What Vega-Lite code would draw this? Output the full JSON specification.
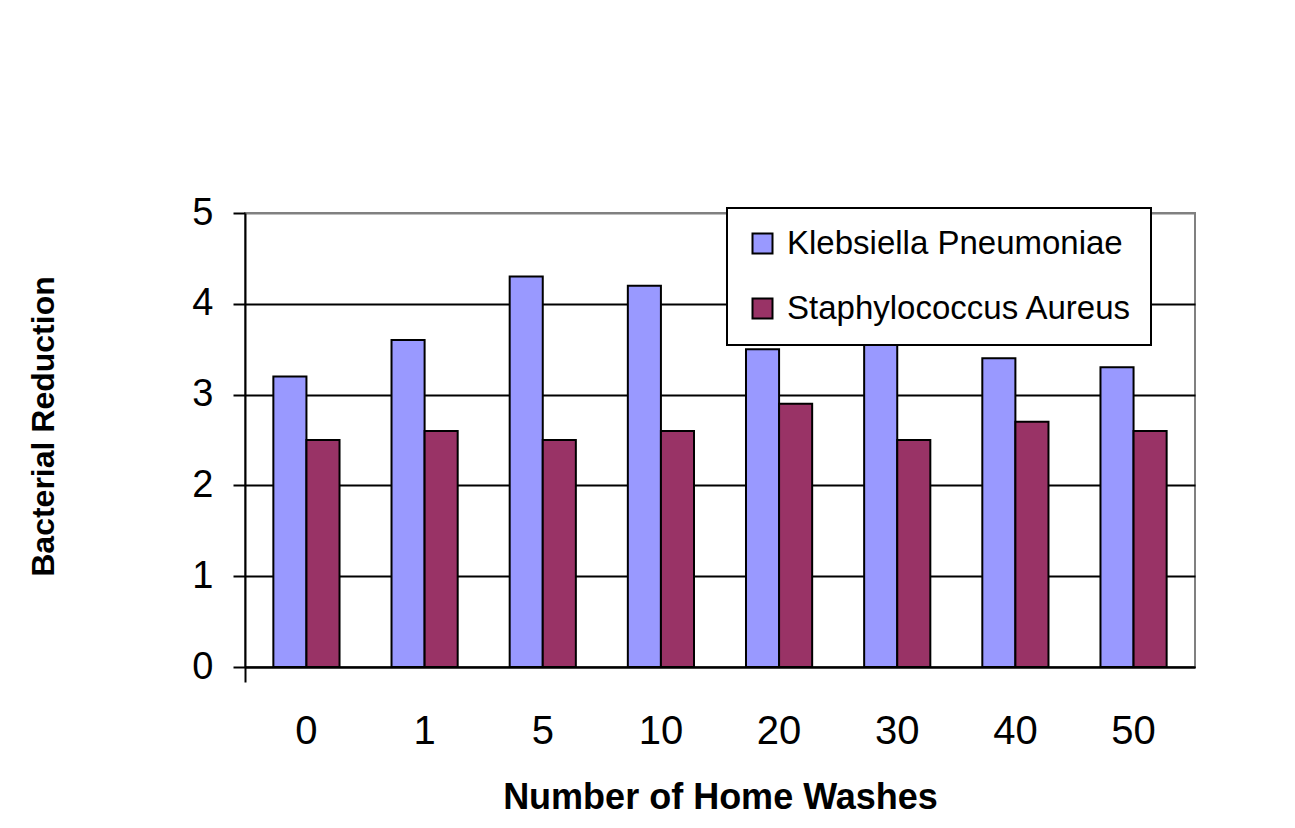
{
  "$schema": "https://vega.github.io/schema/vega-lite/v6.json",
  "width": 950,
  "height": 454,
  "autosize": {"type": "none"},
  "padding": {"left": 245, "top": 213, "right": 100, "bottom": 161},
  "background": "white",
  "config": {
    "font": "Liberation Sans",
    "view": {"stroke": "#808080", "strokeWidth": 2},
    "axis": {"labelColor": "black", "titleColor": "black", "labelFont": "Liberation Sans", "titleFont": "Liberation Sans"},
    "legend": {"strokeWidth": 2}
  },
  "data": {
    "values": [
      {"washes": "0", "series": "Klebsiella Pneumoniae", "value": 3.2},
      {"washes": "0", "series": "Staphylococcus Aureus", "value": 2.5},
      {"washes": "1", "series": "Klebsiella Pneumoniae", "value": 3.6},
      {"washes": "1", "series": "Staphylococcus Aureus", "value": 2.6},
      {"washes": "5", "series": "Klebsiella Pneumoniae", "value": 4.3},
      {"washes": "5", "series": "Staphylococcus Aureus", "value": 2.5},
      {"washes": "10", "series": "Klebsiella Pneumoniae", "value": 4.2},
      {"washes": "10", "series": "Staphylococcus Aureus", "value": 2.6},
      {"washes": "20", "series": "Klebsiella Pneumoniae", "value": 3.5},
      {"washes": "20", "series": "Staphylococcus Aureus", "value": 2.9},
      {"washes": "30", "series": "Klebsiella Pneumoniae", "value": 3.9},
      {"washes": "30", "series": "Staphylococcus Aureus", "value": 2.5},
      {"washes": "40", "series": "Klebsiella Pneumoniae", "value": 3.4},
      {"washes": "40", "series": "Staphylococcus Aureus", "value": 2.7},
      {"washes": "50", "series": "Klebsiella Pneumoniae", "value": 3.3},
      {"washes": "50", "series": "Staphylococcus Aureus", "value": 2.6}
    ]
  },
  "resolve": {"axis": {"x": "independent"}},
  "layer": [
    {
      "mark": {"type": "bar", "stroke": "black", "strokeWidth": 2},
      "encoding": {
        "x": {
          "field": "washes",
          "type": "nominal",
          "sort": ["0", "1", "5", "10", "20", "30", "40", "50"],
          "scale": {"paddingInner": 0.44, "paddingOuter": 0.24},
          "axis": {
            "orient": "bottom",
            "title": "Number of Home Washes",
            "titleFontSize": 36,
            "titleFontWeight": "bold",
            "titleX": 475,
            "titleY": 141,
            "titleBaseline": "alphabetic",
            "titleAlign": "center",
            "labelAngle": 0,
            "labelFontSize": 40,
            "labelPadding": 44,
            "ticks": false,
            "domainColor": "black",
            "domainWidth": 2
          }
        },
        "xOffset": {"field": "series", "type": "nominal", "scale": {"paddingInner": 0, "paddingOuter": 0}},
        "y": {
          "field": "value",
          "type": "quantitative",
          "scale": {"domain": [0, 5]},
          "axis": {
            "title": "Bacterial Reduction",
            "titleFontSize": 32,
            "titleFontWeight": "bold",
            "titleX": -192,
            "titleY": 213,
            "titleAngle": -90,
            "titleBaseline": "alphabetic",
            "titleAlign": "center",
            "values": [0, 1, 2, 3, 4, 5],
            "labelFontSize": 38,
            "labelPadding": 20,
            "tickSize": 12,
            "tickColor": "black",
            "tickWidth": 2,
            "domainColor": "black",
            "domainWidth": 2,
            "grid": true,
            "gridColor": {"condition": {"test": "datum.value == 5", "value": "#808080"}, "value": "black"},
            "gridWidth": 2,
            "gridOpacity": 1
          }
        },
        "color": {
          "field": "series",
          "type": "nominal",
          "scale": {"domain": ["Klebsiella Pneumoniae", "Staphylococcus Aureus"], "range": ["#9999FF", "#993366"]},
          "legend": {
            "title": null,
            "orient": "none",
            "legendX": 482,
            "legendY": -5,
            "padding": 19,
            "strokeColor": "black",
            "fillColor": "white",
            "symbolType": "square",
            "symbolSize": 400,
            "symbolStrokeColor": "black",
            "symbolStrokeWidth": 2,
            "symbolOpacity": 1,
            "labelFontSize": 33,
            "labelFont": "Liberation Sans",
            "labelColor": "black",
            "labelOffset": 8,
            "rowPadding": 31,
            "labelLimit": 600
          }
        }
      }
    },
    {
      "mark": {"type": "rule", "opacity": 0},
      "encoding": {
        "x": {
          "field": "washes",
          "type": "nominal",
          "sort": ["0", "1", "5", "10", "20", "30", "40", "50"],
          "axis": {
            "orient": "bottom",
            "values": ["0"],
            "bandPosition": 0,
            "tickOffset": -28,
            "labels": false,
            "title": null,
            "domain": false,
            "grid": false,
            "tickSize": 15,
            "tickWidth": 2,
            "tickColor": "black"
          }
        }
      }
    }
  ]
}
